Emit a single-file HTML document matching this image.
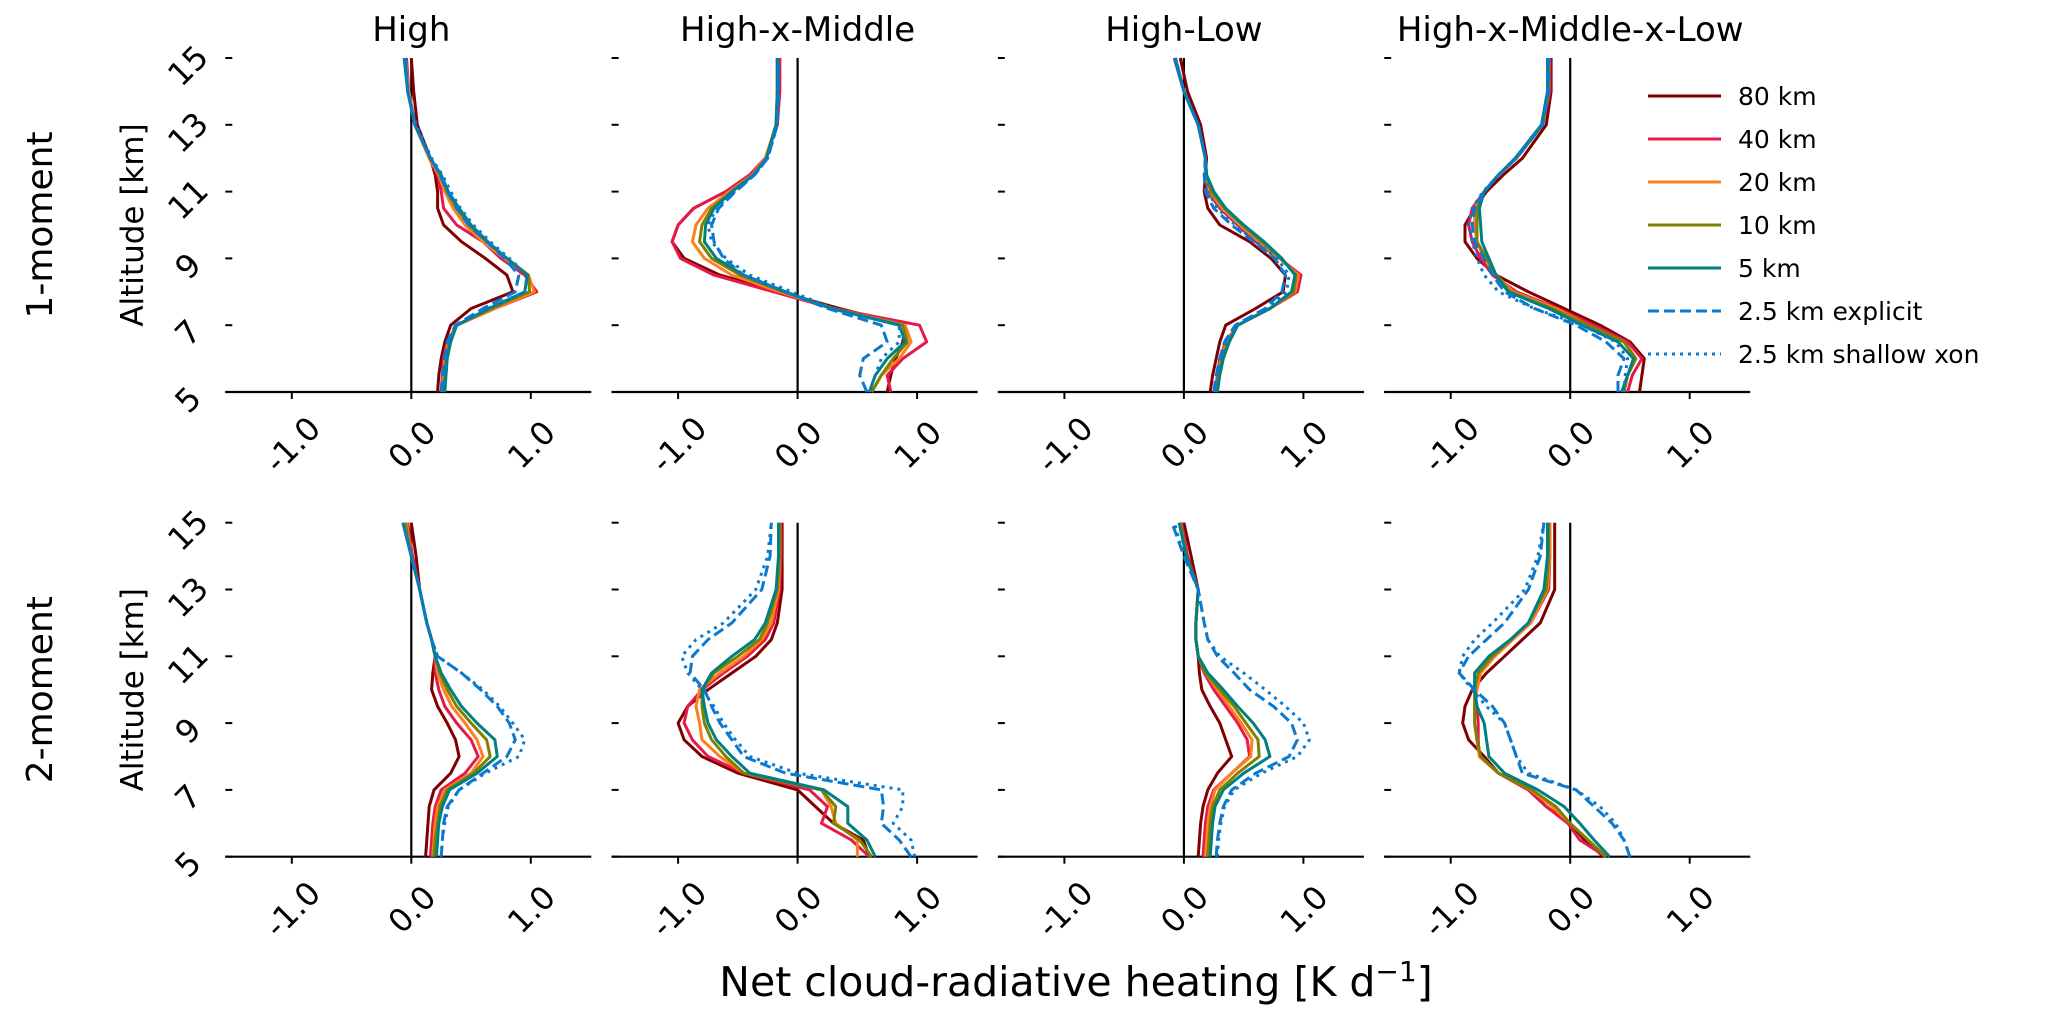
<!DOCTYPE html>
<html><head><meta charset="utf-8"><style>
html,body{margin:0;padding:0;background:#fff;}
svg{display:block;font-family:"DejaVu Sans","Liberation Sans",sans-serif;}
</style></head><body>
<svg id="fig" width="2067" height="1023" viewBox="0 0 2067 1023" xmlns="http://www.w3.org/2000/svg"></svg>
<script>
const levels=[5,5.5,6,6.5,7,7.5,8,8.5,9,9.5,10,10.5,11,11.5,12,13,14,15];
const colTitles=["High","High-x-Middle","High-Low","High-x-Middle-x-Low"];
const rowLabels=["1-moment","2-moment"];
const xTicks=[-1,0,1];
const xTickLabels=["-1.0","0.0","1.0"];
const yTicks=[5,7,9,11,13,15];
const seriesNames=["80 km","40 km","20 km","10 km","5 km","2.5 km explicit","2.5 km shallow xon"];

// Row 1 (1-moment)
const r1High_80=[0.22,0.23,0.25,0.28,0.33,0.5,0.85,0.8,0.62,0.42,0.27,0.22,0.22,0.2,0.16,0.05,0.02,0.0];
const r1High_40=[0.25,0.26,0.27,0.3,0.38,0.7,1.05,0.95,0.75,0.6,0.38,0.27,0.25,0.22,0.15,0.03,-0.02,-0.04];
const r1High_20=[0.26,0.27,0.28,0.31,0.38,0.7,1.03,0.98,0.78,0.6,0.45,0.35,0.28,0.23,0.15,0.03,-0.02,-0.05];
const r1High_10=[0.27,0.28,0.29,0.32,0.38,0.67,0.99,0.98,0.8,0.63,0.48,0.38,0.3,0.24,0.16,0.03,-0.03,-0.05];
const r1High_5=[0.28,0.29,0.3,0.33,0.38,0.65,0.95,0.97,0.8,0.64,0.5,0.4,0.31,0.25,0.16,0.03,-0.03,-0.06];
const r1High_exp=[0.25,0.26,0.28,0.3,0.37,0.6,0.87,0.9,0.78,0.63,0.48,0.38,0.3,0.24,0.16,0.03,-0.03,-0.05];
const r1High_shx=[0.27,0.28,0.29,0.32,0.38,0.64,0.95,0.97,0.82,0.66,0.52,0.41,0.33,0.26,0.17,0.04,-0.03,-0.05];

const r1HxM_80=[0.75,0.78,0.82,0.88,0.9,0.35,-0.15,-0.65,-0.95,-1.05,-1.0,-0.87,-0.6,-0.4,-0.27,-0.17,-0.15,-0.15];
const r1HxM_40=[0.78,0.75,0.88,1.08,1.02,0.3,-0.2,-0.7,-0.98,-1.05,-1.0,-0.87,-0.6,-0.4,-0.27,-0.17,-0.15,-0.15];
const r1HxM_20=[0.62,0.7,0.85,0.95,0.9,0.3,-0.15,-0.55,-0.78,-0.88,-0.85,-0.75,-0.57,-0.38,-0.27,-0.18,-0.17,-0.17];
const r1HxM_10=[0.62,0.7,0.8,0.92,0.88,0.3,-0.12,-0.48,-0.72,-0.82,-0.8,-0.72,-0.55,-0.37,-0.26,-0.18,-0.17,-0.17];
const r1HxM_5=[0.6,0.65,0.75,0.9,0.85,0.28,-0.1,-0.45,-0.68,-0.78,-0.77,-0.7,-0.55,-0.37,-0.26,-0.18,-0.17,-0.17];
const r1HxM_exp=[0.58,0.52,0.55,0.75,0.7,0.25,-0.1,-0.45,-0.62,-0.7,-0.72,-0.66,-0.52,-0.36,-0.25,-0.17,-0.16,-0.16];
const r1HxM_shx=[0.6,0.65,0.7,0.85,0.85,0.3,-0.05,-0.4,-0.6,-0.72,-0.75,-0.68,-0.53,-0.36,-0.25,-0.17,-0.16,-0.16];

const r1HL_80=[0.22,0.24,0.27,0.3,0.35,0.6,0.83,0.85,0.73,0.55,0.3,0.2,0.17,0.18,0.19,0.14,0.03,-0.03];
const r1HL_40=[0.26,0.28,0.3,0.35,0.45,0.72,0.95,0.98,0.8,0.6,0.45,0.3,0.2,0.18,0.18,0.12,0.0,-0.07];
const r1HL_20=[0.27,0.29,0.31,0.36,0.45,0.72,0.93,0.96,0.8,0.63,0.47,0.32,0.22,0.18,0.18,0.12,0.0,-0.07];
const r1HL_10=[0.27,0.29,0.32,0.37,0.45,0.72,0.92,0.94,0.81,0.65,0.49,0.34,0.23,0.19,0.18,0.12,0.0,-0.08];
const r1HL_5=[0.28,0.3,0.33,0.38,0.45,0.72,0.9,0.93,0.82,0.67,0.5,0.35,0.25,0.19,0.18,0.12,0.0,-0.08];
const r1HL_exp=[0.25,0.27,0.3,0.34,0.43,0.68,0.82,0.85,0.76,0.58,0.4,0.25,0.18,0.17,0.18,0.12,0.0,-0.07];
const r1HL_shx=[0.26,0.28,0.31,0.35,0.44,0.7,0.86,0.88,0.78,0.6,0.43,0.28,0.2,0.18,0.18,0.12,0.0,-0.07];

const r1HxMxL_80=[0.58,0.6,0.62,0.5,0.25,-0.05,-0.35,-0.62,-0.78,-0.88,-0.88,-0.8,-0.7,-0.56,-0.4,-0.2,-0.16,-0.16];
const r1HxMxL_40=[0.48,0.52,0.6,0.48,0.2,-0.1,-0.45,-0.65,-0.75,-0.82,-0.85,-0.82,-0.72,-0.6,-0.45,-0.23,-0.17,-0.17];
const r1HxMxL_20=[0.45,0.48,0.55,0.45,0.15,-0.12,-0.48,-0.62,-0.72,-0.78,-0.8,-0.8,-0.72,-0.6,-0.45,-0.23,-0.18,-0.18];
const r1HxMxL_10=[0.45,0.48,0.55,0.45,0.15,-0.15,-0.5,-0.62,-0.7,-0.78,-0.78,-0.78,-0.72,-0.6,-0.45,-0.23,-0.18,-0.18];
const r1HxMxL_5=[0.43,0.48,0.53,0.4,0.1,-0.18,-0.52,-0.62,-0.68,-0.74,-0.75,-0.76,-0.72,-0.6,-0.46,-0.24,-0.19,-0.19];
const r1HxMxL_exp=[0.4,0.4,0.45,0.3,0.05,-0.3,-0.55,-0.65,-0.72,-0.8,-0.82,-0.8,-0.72,-0.6,-0.45,-0.23,-0.18,-0.18];
const r1HxMxL_shx=[0.45,0.46,0.48,0.38,0.1,-0.3,-0.6,-0.72,-0.78,-0.82,-0.85,-0.82,-0.73,-0.6,-0.46,-0.24,-0.19,-0.19];

// Row 2 (2-moment)
const r2High_80=[0.12,0.13,0.14,0.15,0.19,0.33,0.4,0.37,0.3,0.22,0.17,0.18,0.2,0.17,0.13,0.07,0.04,0.0];
const r2High_40=[0.16,0.17,0.18,0.2,0.25,0.45,0.56,0.5,0.38,0.28,0.23,0.2,0.2,0.17,0.13,0.07,0.01,-0.03];
const r2High_20=[0.18,0.19,0.2,0.22,0.28,0.5,0.6,0.55,0.45,0.34,0.27,0.22,0.2,0.17,0.13,0.07,0.0,-0.04];
const r2High_10=[0.19,0.2,0.22,0.24,0.3,0.52,0.66,0.63,0.5,0.38,0.3,0.24,0.2,0.17,0.13,0.07,0.0,-0.05];
const r2High_5=[0.21,0.22,0.23,0.26,0.32,0.55,0.72,0.7,0.55,0.42,0.33,0.25,0.2,0.17,0.13,0.07,0.0,-0.07];
const r2High_exp=[0.25,0.26,0.27,0.3,0.4,0.6,0.8,0.87,0.82,0.72,0.58,0.42,0.22,0.17,0.13,0.07,0.0,-0.07];
const r2High_shx=[0.25,0.26,0.28,0.31,0.4,0.62,0.9,0.95,0.85,0.74,0.6,0.42,0.22,0.17,0.13,0.07,0.0,-0.07];

const r2HxM_80=[0.6,0.55,0.3,0.15,0.0,-0.5,-0.8,-0.95,-1.0,-0.92,-0.75,-0.55,-0.35,-0.22,-0.17,-0.13,-0.13,-0.13];
const r2HxM_40=[0.6,0.45,0.2,0.25,0.1,-0.45,-0.75,-0.88,-0.95,-0.92,-0.8,-0.62,-0.42,-0.27,-0.2,-0.15,-0.14,-0.14];
const r2HxM_20=[0.5,0.5,0.32,0.28,0.2,-0.45,-0.65,-0.8,-0.82,-0.85,-0.82,-0.65,-0.45,-0.3,-0.22,-0.16,-0.15,-0.15];
const r2HxM_10=[0.62,0.52,0.3,0.32,0.2,-0.45,-0.6,-0.72,-0.78,-0.8,-0.8,-0.7,-0.5,-0.32,-0.25,-0.17,-0.15,-0.15];
const r2HxM_5=[0.65,0.58,0.42,0.42,0.22,-0.4,-0.55,-0.68,-0.75,-0.78,-0.8,-0.72,-0.55,-0.36,-0.27,-0.18,-0.16,-0.16];
const r2HxM_exp=[0.95,0.85,0.7,0.72,0.7,-0.1,-0.45,-0.55,-0.65,-0.72,-0.78,-0.9,-0.88,-0.75,-0.55,-0.3,-0.23,-0.22];
const r2HxM_shx=[0.98,0.95,0.8,0.88,0.88,0.0,-0.4,-0.52,-0.62,-0.7,-0.8,-0.92,-0.97,-0.85,-0.62,-0.35,-0.25,-0.22];

const r2HL_80=[0.12,0.13,0.14,0.16,0.2,0.28,0.4,0.35,0.3,0.22,0.15,0.13,0.12,0.1,0.1,0.12,0.06,0.0];
const r2HL_40=[0.16,0.17,0.18,0.2,0.25,0.4,0.55,0.53,0.45,0.35,0.25,0.17,0.12,0.1,0.1,0.12,0.03,-0.02];
const r2HL_20=[0.18,0.19,0.2,0.22,0.26,0.4,0.56,0.57,0.48,0.38,0.28,0.18,0.12,0.1,0.1,0.12,0.02,-0.03];
const r2HL_10=[0.2,0.21,0.22,0.24,0.3,0.45,0.63,0.62,0.52,0.42,0.3,0.18,0.12,0.1,0.1,0.12,0.02,-0.03];
const r2HL_5=[0.22,0.23,0.24,0.26,0.33,0.5,0.72,0.68,0.58,0.45,0.33,0.2,0.12,0.1,0.1,0.12,0.02,-0.04];
const r2HL_exp=[0.27,0.28,0.3,0.33,0.4,0.6,0.88,0.95,0.9,0.75,0.55,0.42,0.28,0.2,0.17,0.12,0.0,-0.1];
const r2HL_shx=[0.28,0.29,0.31,0.34,0.42,0.65,0.95,1.05,1.0,0.85,0.68,0.5,0.3,0.2,0.17,0.12,0.0,-0.08];

const r2HxMxL_80=[0.28,0.12,0.0,-0.2,-0.35,-0.6,-0.72,-0.85,-0.9,-0.88,-0.82,-0.7,-0.55,-0.4,-0.25,-0.13,-0.13,-0.13];
const r2HxMxL_40=[0.3,0.08,-0.02,-0.2,-0.35,-0.6,-0.76,-0.77,-0.77,-0.78,-0.8,-0.75,-0.65,-0.5,-0.33,-0.18,-0.17,-0.17];
const r2HxMxL_20=[0.3,0.15,0.0,-0.15,-0.33,-0.6,-0.76,-0.78,-0.8,-0.8,-0.78,-0.75,-0.63,-0.48,-0.33,-0.19,-0.17,-0.17];
const r2HxMxL_10=[0.3,0.15,0.0,-0.12,-0.32,-0.6,-0.75,-0.78,-0.8,-0.8,-0.8,-0.77,-0.65,-0.5,-0.35,-0.2,-0.18,-0.18];
const r2HxMxL_5=[0.33,0.2,0.08,-0.05,-0.27,-0.55,-0.68,-0.7,-0.72,-0.78,-0.8,-0.8,-0.68,-0.5,-0.35,-0.22,-0.19,-0.19];
const r2HxMxL_exp=[0.5,0.45,0.35,0.2,0.05,-0.4,-0.45,-0.5,-0.55,-0.65,-0.8,-0.93,-0.85,-0.7,-0.55,-0.35,-0.25,-0.22];
const r2HxMxL_shx=[0.5,0.45,0.38,0.25,0.05,-0.35,-0.45,-0.5,-0.55,-0.7,-0.82,-0.93,-0.9,-0.8,-0.65,-0.38,-0.27,-0.22];

const panelData=[
 [[r1High_80,r1High_40,r1High_20,r1High_10,r1High_5,r1High_exp,r1High_shx],
  [r1HxM_80,r1HxM_40,r1HxM_20,r1HxM_10,r1HxM_5,r1HxM_exp,r1HxM_shx],
  [r1HL_80,r1HL_40,r1HL_20,r1HL_10,r1HL_5,r1HL_exp,r1HL_shx],
  [r1HxMxL_80,r1HxMxL_40,r1HxMxL_20,r1HxMxL_10,r1HxMxL_5,r1HxMxL_exp,r1HxMxL_shx]],
 [[r2High_80,r2High_40,r2High_20,r2High_10,r2High_5,r2High_exp,r2High_shx],
  [r2HxM_80,r2HxM_40,r2HxM_20,r2HxM_10,r2HxM_5,r2HxM_exp,r2HxM_shx],
  [r2HL_80,r2HL_40,r2HL_20,r2HL_10,r2HL_5,r2HL_exp,r2HL_shx],
  [r2HxMxL_80,r2HxMxL_40,r2HxMxL_20,r2HxMxL_10,r2HxMxL_5,r2HxMxL_exp,r2HxMxL_shx]]
];

const colors=["#7f0000","#e6194b","#ff7f1e","#808000","#008080","#0a7ad0","#0a7ad0"];
const dashes=["","","","","","11,5","3,5"];
const NS="http://www.w3.org/2000/svg";
const svg=document.getElementById("fig");
function mk(tag,attrs,parent){const e=document.createElementNS(NS,tag);for(const k in attrs)e.setAttribute(k,attrs[k]);(parent||svg).appendChild(e);return e;}

const zeroX0=411.3, colStep=386.3, unit=119.5;
const rowTop=[58,522.7], kmPx=33.4;
function xScale(c,v){return zeroX0+c*colStep+v*unit;}
function yScale(r,z){return rowTop[r]+(15-z)*kmPx;}

for(let r=0;r<2;r++){
  for(let c=0;c<4;c++){
    const g=mk("g",{});
    
    
    const z0=xScale(c,0), yb=yScale(r,5), yt=yScale(r,15);
    const sp=mk("line",{x1:z0-186,x2:z0+180,y1:yb,y2:yb,stroke:"#000","stroke-width":2.2},g);
    
    
    const zl=mk("line",{x1:z0,x2:z0,y1:yt,y2:yb,stroke:"#000","stroke-width":2.2},g);
    
    
    xTicks.forEach((t,i)=>{
      const x=xScale(c,t);
      const tk=mk("line",{x1:x,x2:x,y1:yb,y2:yb+7,stroke:"#000","stroke-width":2},g);
      
      
      const cy=yb+52;
      const tl=mk("text",{x:x,y:cy+12,"font-size":32,"text-anchor":"middle",transform:"rotate(-45 "+x+" "+cy+")"},g);
      tl.textContent=xTickLabels[i];
      
      
    });
    yTicks.forEach(t=>{
      const y=yScale(r,t);
      const tk=mk("line",{x1:z0-186,x2:z0-179,y1:y,y2:y,stroke:"#000","stroke-width":2},g);
      
      
      if(c===0){
        const cx=z0-224, cy=y+7;
        const tl=mk("text",{x:cx,y:cy+12,"font-size":32,"text-anchor":"middle",transform:"rotate(-45 "+cx+" "+cy+")"},g);
        tl.textContent=String(t);
        
        
      }
    });
    if(r===0){
      const tt=mk("text",{x:z0,y:41,"font-size":34,"text-anchor":"middle"},g);
      tt.textContent=colTitles[c];
      
      
    }
    const series=panelData[r][c];
    series.forEach((vals,s)=>{
      const pts=vals.map((v,i)=>xScale(c,v).toFixed(1)+","+yScale(r,levels[i]).toFixed(1)).join(" ");
      const a={points:pts,fill:"none",stroke:colors[s],"stroke-width":3,"stroke-linejoin":"round"};
      if(dashes[s])a["stroke-dasharray"]=dashes[s];
      const pl=mk("polyline",a,g);
      
      
    });
  }
  const yc=(yScale(r,15)+yScale(r,5))/2;
  const rl=mk("text",{x:52,y:yc,"font-size":36,"text-anchor":"middle",transform:"rotate(-90 52 "+yc+")"});
  rl.textContent=rowLabels[r];
  
  
  const al=mk("text",{x:143,y:yc,"font-size":31,"text-anchor":"middle",transform:"rotate(-90 143 "+yc+")"});
  al.textContent="Altitude [km]";
  
  
}

const lg=mk("g",{});


seriesNames.forEach((n,i)=>{
  const y=96+i*43;
  const a={x1:1648,x2:1721,y1:y,y2:y,stroke:colors[i],"stroke-width":3};
  if(dashes[i])a["stroke-dasharray"]=dashes[i];
  const ln=mk("line",a,lg);
  
  
  const t=mk("text",{x:1738,y:y+9,"font-size":25},lg);
  t.textContent=n;
  
  
});

const xl=mk("text",{x:1076,y:996,"font-size":41,"text-anchor":"middle"});


xl.appendChild(document.createTextNode("Net cloud-radiative heating [K d"));
const sup=mk("tspan",{"font-size":28,dy:-15},xl);
sup.textContent="−1";
const cl=mk("tspan",{"font-size":41,dy:15},xl);
cl.textContent="]";
</script>
</body></html>
